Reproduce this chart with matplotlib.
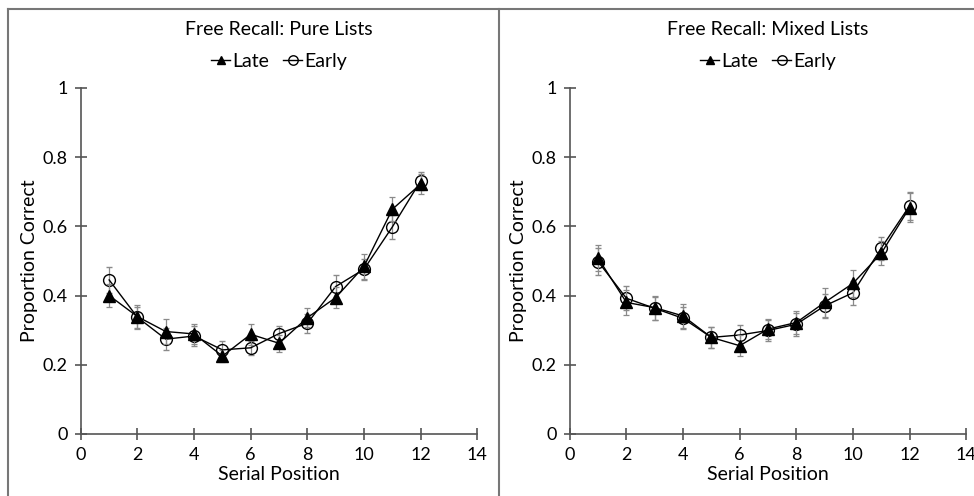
import matplotlib
matplotlib.use("Agg")
from matplotlib import pyplot as plt
from matplotlib.lines import Line2D

plt.rcParams['font.family'] = ['Lato', 'DejaVu Sans']

positions = list(range(1, 13))

pure_late = [0.400, 0.339, 0.296, 0.289, 0.225, 0.288, 0.262, 0.336, 0.394, 0.484, 0.649, 0.722]
pure_late_err = [0.033, 0.035, 0.035, 0.030, 0.018, 0.030, 0.025, 0.028, 0.030, 0.035, 0.035, 0.030]
pure_early = [0.445, 0.337, 0.274, 0.283, 0.243, 0.249, 0.290, 0.320, 0.426, 0.476, 0.598, 0.731]
pure_early_err = [0.037, 0.030, 0.032, 0.030, 0.027, 0.020, 0.022, 0.028, 0.032, 0.030, 0.036, 0.027]

mixed_late = [0.508, 0.380, 0.365, 0.341, 0.279, 0.255, 0.303, 0.322, 0.380, 0.435, 0.522, 0.654]
mixed_late_err = [0.038, 0.035, 0.035, 0.035, 0.030, 0.030, 0.030, 0.033, 0.043, 0.040, 0.035, 0.042]
mixed_early = [0.498, 0.392, 0.363, 0.334, 0.279, 0.286, 0.299, 0.317, 0.370, 0.408, 0.537, 0.659]
mixed_early_err = [0.040, 0.035, 0.033, 0.032, 0.030, 0.030, 0.030, 0.033, 0.035, 0.035, 0.033, 0.040]

titles = ['Free Recall: Pure Lists', 'Free Recall: Mixed Lists']
panels = [(pure_late, pure_late_err, pure_early, pure_early_err),
          (mixed_late, mixed_late_err, mixed_early, mixed_early_err)]
x_ticks = [0, 2, 4, 6, 8, 10, 12, 14]
y_ticks = [0, 0.2, 0.4, 0.6, 0.8, 1]
y_labels = ['0', '0.2', '0.4', '0.6', '0.8', '1']

fig = plt.figure(figsize=(9.74, 4.96), dpi=100)
axes_pos = [[0.083, 0.125, 0.407, 0.698], [0.585, 0.125, 0.407, 0.698]]

for pos, title, (late, late_err, early, early_err) in zip(axes_pos, titles, panels):
    ax = fig.add_axes(pos)

    ax.errorbar(positions, late, yerr=late_err, color='black', lw=1,
                marker='^', ms=8, mfc='black', mec='black',
                ecolor='#8a8a8a', elinewidth=0.9, capsize=2.5, capthick=0.9,
                label='Late', zorder=3)
    ax.errorbar(positions, early, yerr=early_err, color='black', lw=1,
                marker='o', ms=8.5, mfc='none', mec='black', mew=1,
                ecolor='#8a8a8a', elinewidth=0.9, capsize=2.5, capthick=0.9,
                label='Early', zorder=2)

    ax.set_xlim(0, 14)
    ax.set_ylim(0, 1)
    ax.set_xticks(x_ticks)
    ax.set_yticks(y_ticks)
    ax.set_yticklabels(y_labels)

    # Remove top/right spines, keep axis lines grey
    for s in ['top', 'right']:
        ax.spines[s].set_visible(False)
    for s in ['left', 'bottom']:
        ax.spines[s].set_color('#555555')
        ax.spines[s].set_linewidth(1.2)
    ax.tick_params(direction='inout', length=9, width=1.2, color='#555555',
                   labelsize=13, pad=5)

    ax.set_xlabel('Serial Position', fontsize=14, labelpad=2)
    ax.set_ylabel('Proportion Correct', fontsize=14, labelpad=3)
    ax.set_title(title, fontsize=14, pad=38)

    handles, labels = ax.get_legend_handles_labels()
    ax.legend([h[0] for h in handles], labels, loc='lower center',
              bbox_to_anchor=(0.5, 1.0), ncol=2, frameon=False,
              fontsize=14, handlelength=1.0, handletextpad=0.1,
              columnspacing=0.7, markerscale=0.8)

# Panel frame lines
frame_color = '#777777'
fig.add_artist(Line2D([8 / 974, 8 / 974], [0, 1 - 9 / 496], color=frame_color, lw=1.5))
fig.add_artist(Line2D([8 / 974, 1], [1 - 9 / 496, 1 - 9 / 496], color=frame_color, lw=1.5))
fig.add_artist(Line2D([499 / 974, 499 / 974], [0, 1 - 9 / 496], color=frame_color, lw=1.5))

fig.savefig('out.png', dpi=100)
